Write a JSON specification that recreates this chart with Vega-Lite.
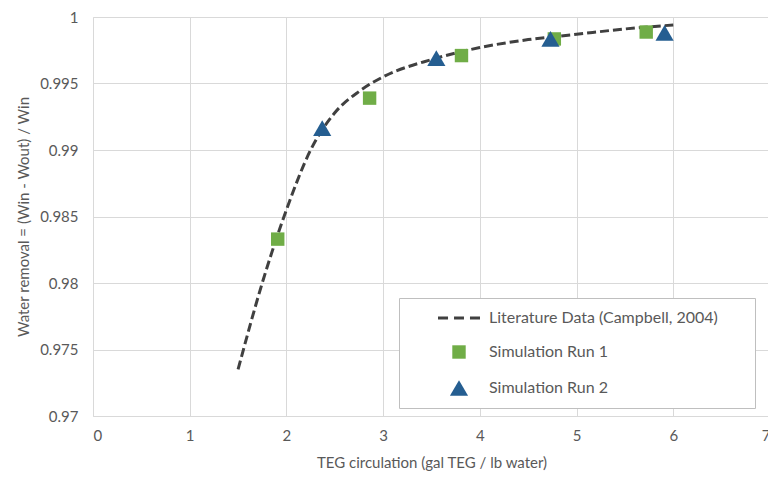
{
  "$schema": "https://vega.github.io/schema/vega-lite/v6.json",
  "autosize": "none",
  "width": 677,
  "height": 399,
  "padding": {"left": 93, "top": 17, "right": 0, "bottom": 65},
  "background": "white",
  "config": {
    "font": "Lato",
    "view": {"stroke": null},
    "axis": {
      "gridColor": "#d9d9d9",
      "domainColor": "#d9d9d9",
      "ticks": false,
      "labelColor": "#595959",
      "labelFontSize": 15,
      "labelFont": "Lato",
      "titleColor": "#595959",
      "titleFontSize": 15,
      "titleFont": "Lato",
      "titleFontWeight": "normal"
    }
  },
  "datasets": {
    "lit": [
      {"x": 1.5, "y": 0.9735},
      {"x": 1.75, "y": 0.98},
      {"x": 2.0, "y": 0.9855},
      {"x": 2.25, "y": 0.99},
      {"x": 2.5, "y": 0.9928},
      {"x": 2.75, "y": 0.9944},
      {"x": 3.0, "y": 0.9955},
      {"x": 3.5, "y": 0.9968},
      {"x": 4.0, "y": 0.9977},
      {"x": 4.5, "y": 0.9983},
      {"x": 5.0, "y": 0.9987},
      {"x": 5.5, "y": 0.9991},
      {"x": 6.0, "y": 0.9994}
    ],
    "sim": [
      {"x": 1.91, "y": 0.9833, "series": "Simulation Run 1"},
      {"x": 2.86, "y": 0.9939, "series": "Simulation Run 1"},
      {"x": 3.81, "y": 0.9971, "series": "Simulation Run 1"},
      {"x": 4.77, "y": 0.99835, "series": "Simulation Run 1"},
      {"x": 5.72, "y": 0.99887, "series": "Simulation Run 1"},
      {"x": 2.37, "y": 0.99165, "series": "Simulation Run 2"},
      {"x": 3.55, "y": 0.9969, "series": "Simulation Run 2"},
      {"x": 4.73, "y": 0.99835, "series": "Simulation Run 2"},
      {"x": 5.91, "y": 0.9988, "series": "Simulation Run 2"}
    ]
  },
  "layer": [
    {
      "data": {"name": "lit"},
      "mark": {"type": "line", "color": "#404040", "strokeWidth": 3, "strokeDash": [9, 4], "interpolate": "monotone"},
      "encoding": {
        "x": {"field": "x", "type": "quantitative", "scale": {"domain": [0, 7], "nice": false}, "axis": {"values": [0,1,2,3,4,5,6,7], "format": "d", "title": "TEG circulation (gal TEG / lb water)", "labelPadding": 12, "titlePadding": 12, "grid": true}},
        "y": {"field": "y", "type": "quantitative", "scale": {"domain": [0.97, 1], "nice": false, "zero": false}, "axis": {"values": [0.97, 0.975, 0.98, 0.985, 0.99, 0.995, 1], "format": ".3~f", "title": "Water removal = (Win - Wout) / Win", "labelPadding": 15, "titlePadding": 8}}
      }
    },
    {
      "data": {"name": "sim"},
      "mark": {"type": "point", "filled": true, "opacity": 1},
      "encoding": {
        "x": {"field": "x", "type": "quantitative"},
        "y": {"field": "y", "type": "quantitative"},
        "size": {
          "field": "series", "type": "nominal",
          "scale": {"type": "ordinal", "domain": ["Literature Data (Campbell, 2004)", "Simulation Run 1", "Simulation Run 2"], "range": [144, 180, 330]}
        },
        "color": {
          "field": "series", "type": "nominal",
          "scale": {"domain": ["Literature Data (Campbell, 2004)", "Simulation Run 1", "Simulation Run 2"], "range": ["#404040", "#70AD47", "#255E91"]},
          "legend": {
            "title": "\u00a0",
            "titleOrient": "right",
            "titlePadding": 25,
            "titleFontSize": 16,
            "orient": "none",
            "legendX": 306,
            "legendY": 281,
            "fillColor": "white",
            "strokeColor": "#bfbfbf",
            "padding": 12,
            "symbolOffset": 38,
            "labelOffset": 20,
            "rowPadding": 18,
            "labelFont": "Lato",
            "labelFontSize": 16,
            "labelColor": "#595959",
            "labelLimit": 400
          }
        },
        "shape": {
          "field": "series", "type": "nominal",
          "scale": {"domain": ["Literature Data (Campbell, 2004)", "Simulation Run 1", "Simulation Run 2"], "range": ["M-3.5,-0.25H-1.83V0.25H-3.5Z M-0.83,-0.25H0.83V0.25H-0.83Z M1.83,-0.25H3.5V0.25H1.83Z", "square", "triangle-up"]}
        }
      }
    }
  ]
}
